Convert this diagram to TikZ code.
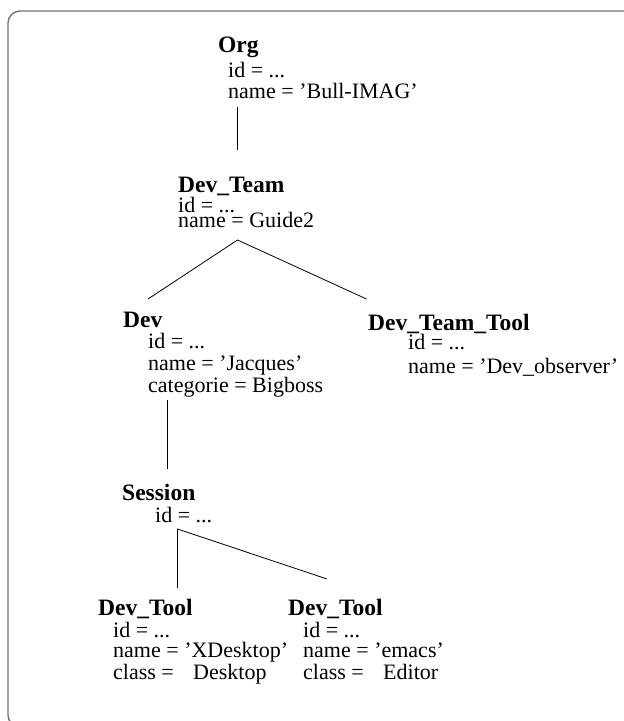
\documentclass[tikz,border=0pt]{standalone}
\usepackage{fontspec}
\setmainfont{Liberation Serif}
\begin{document}
\begin{tikzpicture}[x=1pt,y=-1pt,
  title/.style={anchor=base west, inner sep=0pt, font=\fontsize{23.5}{26}\selectfont\bfseries},
  attr/.style={anchor=base west, inner sep=0pt, font=\fontsize{22}{24}\selectfont},
  link/.style={line width=0.8pt},
  frame/.style={draw=black!55, line width=1.4pt, rounded corners=12pt}]
\useasboundingbox (0,0) rectangle (624,721);
% outer frame (runs off the right and bottom edges)
\draw[frame] (8,11) rectangle (660,727);

% Org
\node[title] (org) at (218,52) {Org};
\node[attr] (org-id) at (228,77) {id = ...};
\node[attr] (org-name) at (228,98) {name = 'Bull-IMAG'};

% Dev_Team
\node[title] (team) at (178,192) {Dev\_Team};
\node[attr] (team-id) at (178,212) {id = ...};
\node[attr] (team-name) at (178,227) {name = Guide2};

% Dev
\node[title] (dev) at (123,327) {Dev};
\node[attr] (dev-id) at (148,348) {id = ...};
\node[attr] (dev-name) at (148,370) {name = 'Jacques'};
\node[attr] (dev-cat) at (148,392) {categorie = Bigboss};

% Dev_Team_Tool
\node[title] (tool) at (368,330) {Dev\_Team\_Tool};
\node[attr] (tool-id) at (408,349) {id = ...};
\node[attr] (tool-name) at (408,373) {name = 'Dev\_observer'};

% Session
\node[title] (sess) at (122,500) {Session};
\node[attr] (sess-id) at (155,522) {id = ...};

% Dev_Tool (left)
\node[title] (dtA) at (98,615) {Dev\_Tool};
\node[attr] (dtA-id) at (113,637) {id = ...};
\node[attr] (dtA-name) at (113,657) {name = 'XDesktop'};
\node[attr] (dtA-class) at (113,679) {\makebox[80pt][l]{class =}Desktop};

% Dev_Tool (right)
\node[title] (dtB) at (288,615) {Dev\_Tool};
\node[attr] (dtB-id) at (303,637) {id = ...};
\node[attr] (dtB-name) at (303,657) {name = 'emacs'};
\node[attr] (dtB-class) at (303,679) {\makebox[80pt][l]{class =}Editor};

% link end points
\coordinate (org-bot) at (237,107);
\coordinate (team-top) at (237,150);
\coordinate (team-apex) at (237.5,240);
\coordinate (dev-top) at (148,299);
\coordinate (tool-top) at (366.5,299);
\coordinate (dev-bot) at (167.5,400);
\coordinate (sess-top) at (167.5,469);
\coordinate (sess-apex) at (177.5,529);
\coordinate (dtA-top) at (177.5,588);
\coordinate (dtB-top) at (327,579);

% links
\draw[link] (org-bot) -- (team-top);
\draw[link] (dev-top) -- (team-apex) -- (tool-top);
\draw[link] (dev-bot) -- (sess-top);
\draw[link] (dtA-top) -- (sess-apex) -- (dtB-top);
\end{tikzpicture}
\end{document}
